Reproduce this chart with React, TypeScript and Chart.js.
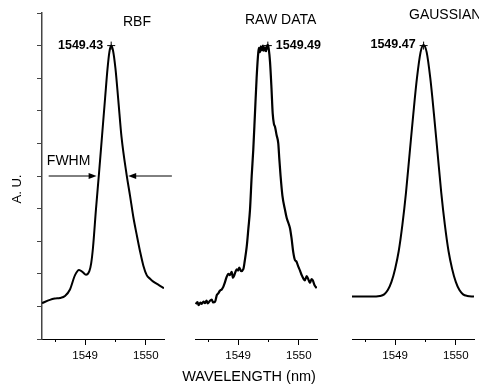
import React, { useEffect, useRef } from 'react';
import { Chart, registerables } from 'chart.js';

Chart.register(...registerables);

// ---------------- data ----------------
const rbfWavelength = [
  1548.29, 1548.42, 1548.5, 1548.587, 1548.669, 1548.751, 1548.834, 1548.9, 1548.96, 1549.015,
  1549.07, 1549.1, 1549.13, 1549.18, 1549.23, 1549.28, 1549.33, 1549.37, 1549.4, 1549.43,
  1549.46, 1549.5, 1549.547, 1549.6, 1549.685, 1549.74, 1549.794, 1549.85, 1549.904, 1549.96,
  1550.015, 1550.07, 1550.124, 1550.21, 1550.3,
];
const rbfIntensity = [
  0.11, 0.12, 0.124, 0.126, 0.132, 0.152, 0.196, 0.212, 0.205, 0.197,
  0.208, 0.232, 0.28, 0.4, 0.51, 0.625, 0.74, 0.83, 0.88, 0.9,
  0.885, 0.83, 0.733, 0.62, 0.503, 0.44, 0.375, 0.32, 0.27, 0.225,
  0.196, 0.185, 0.176, 0.166, 0.156,
];

const rawWavelength = [
  1548.3, 1548.33, 1548.35, 1548.38, 1548.4, 1548.43, 1548.455, 1548.48, 1548.5, 1548.53,
  1548.565, 1548.59, 1548.62, 1548.65, 1548.674, 1548.7, 1548.73, 1548.756, 1548.78, 1548.81,
  1548.84, 1548.865, 1548.895, 1548.915, 1548.932, 1548.955, 1548.977, 1549.0, 1549.02, 1549.05,
  1549.086, 1549.11, 1549.142, 1549.17, 1549.196, 1549.224, 1549.25, 1549.278, 1549.305, 1549.333,
  1549.345, 1549.36, 1549.375, 1549.394, 1549.41, 1549.425, 1549.443, 1549.46, 1549.475, 1549.49,
  1549.505, 1549.526, 1549.55, 1549.57, 1549.59, 1549.608, 1549.635, 1549.662, 1549.68, 1549.7,
  1549.73, 1549.773, 1549.8, 1549.83, 1549.855, 1549.88, 1549.91, 1549.937, 1549.96, 1549.992,
  1550.02, 1550.05, 1550.074, 1550.1, 1550.13, 1550.155, 1550.184, 1550.21, 1550.23, 1550.26,
  1550.295,
];
const rawIntensity = [
  0.107, 0.113, 0.104, 0.112, 0.108, 0.115, 0.11, 0.118, 0.109, 0.116,
  0.121, 0.112, 0.114, 0.135, 0.14, 0.148, 0.152, 0.16, 0.172, 0.19,
  0.2, 0.196, 0.206, 0.188, 0.193, 0.205, 0.214, 0.21, 0.219, 0.208,
  0.214, 0.24, 0.283, 0.34, 0.396, 0.5, 0.58, 0.692, 0.8, 0.88,
  0.893, 0.88, 0.898, 0.885, 0.9, 0.884, 0.895, 0.883, 0.897, 0.902,
  0.89, 0.85, 0.77, 0.692, 0.66, 0.651, 0.625, 0.6, 0.55, 0.5,
  0.44, 0.396, 0.372, 0.355, 0.34, 0.31, 0.265, 0.242, 0.238, 0.222,
  0.21, 0.195, 0.186, 0.18, 0.193, 0.184, 0.172, 0.184, 0.18, 0.165,
  0.156,
];

const gaussWavelength = [
  1548.29, 1548.6, 1548.75, 1548.82, 1548.88, 1548.94, 1549.0, 1549.06, 1549.12, 1549.18,
  1549.24, 1549.3, 1549.36, 1549.42, 1549.468, 1549.52, 1549.58, 1549.64, 1549.7, 1549.76,
  1549.82, 1549.88, 1549.94, 1550.0, 1550.06, 1550.12, 1550.19, 1550.3,
];
const gaussIntensity = [
  0.13, 0.13, 0.132, 0.137, 0.15, 0.175, 0.215, 0.27, 0.35, 0.45,
  0.57, 0.69, 0.8, 0.88, 0.902, 0.88, 0.8, 0.69, 0.57, 0.45,
  0.35, 0.27, 0.215, 0.175, 0.15, 0.137, 0.132, 0.13,
];

const panelTitles = ['RBF', 'RAW DATA', 'GAUSSIAN'];
const peakWavelengths = [1549.43, 1549.49, 1549.47];
const peakLabels = ['1549.43', '1549.49', '1549.47'];
const peakIntensity = 0.9;
const xMajorStep = 1;
const xMinorStep = 0.5;
const yTickStep = 0.1;
const xMin = 1548.29;
const xMax = 1550.3;
const fwhmLevel = 0.5;
const fwhmLeftArrow = [1548.4, 1549.19];
const fwhmRightArrow = [1550.43, 1549.71];
const yAxisTitle = 'A. U.';
const xAxisTitle = 'WAVELENGTH (nm)';

const FONT = "'Liberation Sans', Arial, Helvetica, sans-serif";
const W = 479;
const H = 385;

type Panel = {
  xs: number[];
  ys: number[];
  padLeft: number;
  padRight: number;
  showY: boolean;
  titleDx: number;
  titleY: number;
  labelSide: 'left' | 'right';
  labelDy: number;
  lineWidth: number;
  fwhm?: boolean;
  xTitle?: boolean;
  yTitle?: boolean;
};

const panels: Panel[] = [
  { xs: rbfWavelength, ys: rbfIntensity, padLeft: 0, padRight: W - 164, showY: true, titleDx: 81, titleY: 22, labelSide: 'left', labelDy: 0, lineWidth: 2, fwhm: true, yTitle: true },
  { xs: rawWavelength, ys: rawIntensity, padLeft: 195, padRight: W - 317, showY: false, titleDx: 50, titleY: 20.5, labelSide: 'right', labelDy: 0, lineWidth: 2.2, xTitle: true },
  { xs: gaussWavelength, ys: gaussIntensity, padLeft: 352, padRight: W - 474, showY: false, titleDx: 57, titleY: 15, labelSide: 'left', labelDy: -1, lineWidth: 2 },
];

function arrow(ctx: CanvasRenderingContext2D, x0: number, x1: number, y: number) {
  const dir = x1 > x0 ? 1 : -1;
  ctx.beginPath();
  ctx.moveTo(x0, y);
  ctx.lineTo(x1 - dir * 6, y);
  ctx.stroke();
  ctx.beginPath();
  ctx.moveTo(x1, y);
  ctx.lineTo(x1 - dir * 8, y - 3);
  ctx.lineTo(x1 - dir * 8, y + 3);
  ctx.closePath();
  ctx.fill();
}

function makeDecor(idx: number) {
  const p = panels[idx];
  return {
    id: 'decor' + idx,
    afterDraw(chart: any) {
      const ctx: CanvasRenderingContext2D = chart.ctx;
      const xs = chart.scales.x;
      const ys = chart.scales.y;
      const area = chart.chartArea;
      ctx.save();
      ctx.fillStyle = '#000';
      ctx.strokeStyle = '#000';
      // minor x ticks
      ctx.lineWidth = 1;
      const first = Math.ceil(xMin / xMinorStep) * xMinorStep;
      for (let v = first; v <= xMax + 1e-9; v += xMinorStep) {
        if (Math.abs(v - Math.round(v)) < 1e-6) continue;
        const tx = Math.round(xs.getPixelForValue(v)) + 0.5;
        ctx.beginPath();
        ctx.moveTo(tx, area.bottom);
        ctx.lineTo(tx, area.bottom + 3);
        ctx.stroke();
      }
      ctx.font = `14px ${FONT}`;
      ctx.textAlign = 'left';
      ctx.textBaseline = 'middle';
      ctx.fillText(panelTitles[idx], area.left + p.titleDx, p.titleY);
      const px = xs.getPixelForValue(peakWavelengths[idx]);
      const py = ys.getPixelForValue(peakIntensity);
      ctx.font = `bold 12.5px ${FONT}`;
      if (p.labelSide === 'left') {
        ctx.textAlign = 'right';
        ctx.fillText(peakLabels[idx], px - 8, py + p.labelDy);
      } else {
        ctx.textAlign = 'left';
        ctx.fillText(peakLabels[idx], px + 8, py + p.labelDy);
      }
      if (p.fwhm) {
        const fy = ys.getPixelForValue(fwhmLevel);
        ctx.lineWidth = 1;
        arrow(ctx, xs.getPixelForValue(fwhmLeftArrow[0]), xs.getPixelForValue(fwhmLeftArrow[1]), fy);
        arrow(ctx, xs.getPixelForValue(fwhmRightArrow[0]), xs.getPixelForValue(fwhmRightArrow[1]), fy);
        ctx.font = `14px ${FONT}`;
        ctx.textAlign = 'left';
        ctx.fillText('FWHM', xs.getPixelForValue(1548.37), fy - 15);
      }
      if (p.yTitle) {
        ctx.font = `13px ${FONT}`;
        ctx.translate(17, 189);
        ctx.rotate(-Math.PI / 2);
        ctx.textAlign = 'center';
        ctx.textBaseline = 'middle';
        ctx.fillText(yAxisTitle, 0, 0);
        ctx.setTransform(1, 0, 0, 1, 0, 0);
      }
      if (p.xTitle) {
        ctx.font = `14.5px ${FONT}`;
        ctx.textAlign = 'center';
        ctx.textBaseline = 'middle';
        ctx.fillText(xAxisTitle, area.left + 54, 376.5);
      }
      ctx.restore();
    },
  };
}

function makeChart(canvas: HTMLCanvasElement, idx: number) {
  const p = panels[idx];
  const line = p.xs.map((x, i) => ({ x, y: p.ys[i] }));
  const yScale: any = {
    display: p.showY,
    min: 0,
    max: 1,
    border: { display: true, color: '#444', width: 1.5 },
    grid: { drawOnChartArea: false, drawTicks: true, tickLength: 5, color: '#444' },
    ticks: { display: false, stepSize: yTickStep },
  };
  if (p.showY) {
    yScale.afterFit = (s: any) => {
      s.width = 42;
    };
  }
  return new Chart(canvas, {
    type: 'line',
    data: {
      datasets: [
        {
          data: line,
          borderColor: '#000',
          borderWidth: p.lineWidth,
          pointRadius: 0,
          tension: 0.4,
          cubicInterpolationMode: 'monotone',
          fill: false,
        },
        {
          data: [{ x: peakWavelengths[idx], y: peakIntensity }],
          showLine: false,
          pointStyle: 'cross',
          pointRadius: 4,
          borderColor: '#000',
          borderWidth: 1,
        },
      ],
    },
    options: {
      responsive: false,
      animation: false,
      events: [],
      layout: { padding: { left: p.padLeft, right: p.padRight, top: 13, bottom: 0 } },
      plugins: { legend: { display: false }, tooltip: { enabled: false }, title: { display: false } },
      scales: {
        x: {
          type: 'linear',
          min: xMin,
          max: xMax,
          position: 'bottom',
          afterFit: (s: any) => {
            s.height = 46;
          },
          border: { display: true, color: '#000', width: 1 },
          grid: { drawOnChartArea: false, drawTicks: true, tickLength: 6, color: '#000' },
          ticks: {
            stepSize: xMajorStep,
            includeBounds: false,
            autoSkip: false,
            maxRotation: 0,
            padding: 4,
            color: '#000',
            font: { family: FONT, size: 11.5 },
            callback: (v: any) => String(Math.round(v)),
          },
        },
        y: yScale,
      },
    },
    plugins: [makeDecor(idx)],
  } as any);
}

export default function App() {
  const r0 = useRef<HTMLCanvasElement>(null);
  const r1 = useRef<HTMLCanvasElement>(null);
  const r2 = useRef<HTMLCanvasElement>(null);
  useEffect(() => {
    const refs = [r0, r1, r2];
    const charts = refs.map((r, i) => makeChart(r.current as HTMLCanvasElement, i));
    return () => charts.forEach((c) => c.destroy());
  }, []);
  const style: React.CSSProperties = { position: 'absolute', left: 0, top: 0 };
  return (
    <div style={{ position: 'fixed', left: 0, top: 0, width: W, height: H, background: '#fff' }}>
      <canvas ref={r0} width={W} height={H} style={style} />
      <canvas ref={r1} width={W} height={H} style={style} />
      <canvas ref={r2} width={W} height={H} style={style} />
    </div>
  );
}
